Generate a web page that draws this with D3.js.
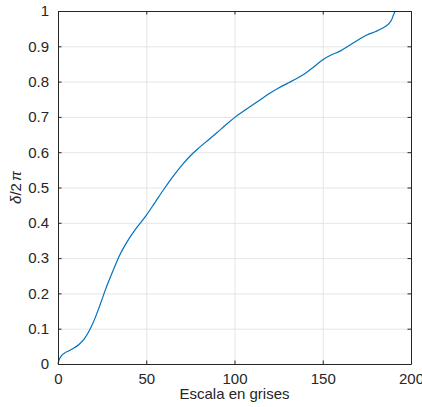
<!DOCTYPE html>
<html>
<head>
<meta charset="utf-8">
<script src="https://cdn.jsdelivr.net/npm/d3@7"></script>
<style>
  body { margin: 0; background: #fff; }
  svg { display: block; font-family: "Liberation Sans", Arial, sans-serif; }
  .grid line { stroke: #e5e5e5; stroke-width: 1; }
  .grid path { display: none; }
  .ax path, .ax line { stroke: #262626; }
  .ax text { fill: #262626; font-size: 15px; }
</style>
</head>
<body>
<svg id="mysvg" width="422" height="407"></svg>
<script>
// gray level vs normalised phase
var grayLevel = [0, 0.5, 1, 2, 4, 6, 9, 12, 15, 18, 21, 24, 27, 31, 35, 40, 45, 50, 55, 60,
                 65, 70, 75, 80, 85, 90, 95, 100, 105, 110, 115, 120, 125, 130, 135, 140,
                 145, 150, 155, 160, 165, 170, 175, 180, 184, 187, 189, 190, 191];
var phase = [0, 0.010, 0.016, 0.024, 0.032, 0.037, 0.045, 0.056, 0.072, 0.097, 0.130, 0.170,
             0.212, 0.262, 0.309, 0.353, 0.389, 0.421, 0.458, 0.495, 0.530, 0.562, 0.590,
             0.613, 0.634, 0.655, 0.677, 0.698, 0.716, 0.733, 0.750, 0.767, 0.782, 0.795,
             0.808, 0.823, 0.842, 0.862, 0.876, 0.887, 0.902, 0.918, 0.932, 0.942, 0.952,
             0.962, 0.975, 0.988, 1.0];
var xTicks = [0, 50, 100, 150, 200];
var yTicks = [0, 0.1, 0.2, 0.3, 0.4, 0.5, 0.6, 0.7, 0.8, 0.9, 1];

var svg = d3.select("svg"),
    mLeft = 58, mTop = 11,
    width = 353, height = 353;

var x = d3.scaleLinear().domain([0, 200]).range([0, width]);
var y = d3.scaleLinear().domain([0, 1]).range([height, 0]);

var g = svg.append("g").attr("transform", "translate(" + mLeft + "," + mTop + ")");

// grid
g.append("g").attr("class", "grid")
    .call(d3.axisBottom(x).tickValues(xTicks).tickFormat("").tickSize(height));
g.append("g").attr("class", "grid")
    .call(d3.axisLeft(y).tickValues(yTicks).tickFormat("").tickSize(-width));

// curve
var pts = grayLevel.map(function(d, i) { return [d, phase[i]]; });
g.append("path")
    .datum(pts)
    .attr("fill", "none")
    .attr("stroke", "#0072bd")
    .attr("stroke-width", 1.2)
    .attr("d", d3.line()
        .x(function(d) { return x(d[0]); })
        .y(function(d) { return y(d[1]); })
        .curve(d3.curveMonotoneX));

// axes (box with inward ticks)
g.append("g").attr("class", "ax")
    .attr("transform", "translate(0," + height + ")")
    .call(d3.axisBottom(x).tickValues(xTicks).tickSizeInner(-3.5).tickSizeOuter(0).tickPadding(9));
g.append("g").attr("class", "ax")
    .call(d3.axisLeft(y).tickValues(yTicks).tickSizeInner(-3.5).tickSizeOuter(0).tickPadding(9)
        .tickFormat(function(d) { return d; }));
g.append("g").attr("class", "ax")
    .call(d3.axisTop(x).tickValues(xTicks).tickSizeInner(-3.5).tickSizeOuter(0).tickFormat(""));
g.append("g").attr("class", "ax")
    .attr("transform", "translate(" + width + ",0)")
    .call(d3.axisRight(y).tickValues(yTicks).tickSizeInner(-3.5).tickSizeOuter(0).tickFormat(""));

// labels
svg.append("text")
    .attr("x", mLeft + width / 2)
    .attr("y", 399)
    .attr("text-anchor", "middle")
    .attr("fill", "#262626")
    .attr("font-size", "15px")
    .text("Escala en grises");

var yl = svg.append("text")
    .attr("transform", "translate(21," + (mTop + height / 2) + ") rotate(-90)")
    .attr("text-anchor", "middle")
    .attr("fill", "#262626")
    .attr("font-size", "15px");
yl.append("tspan").attr("font-style", "italic").text("δ");
yl.append("tspan").text("/2");
yl.append("tspan").attr("dx", 2).attr("font-style", "italic").text("π");
</script>
</body>
</html>
